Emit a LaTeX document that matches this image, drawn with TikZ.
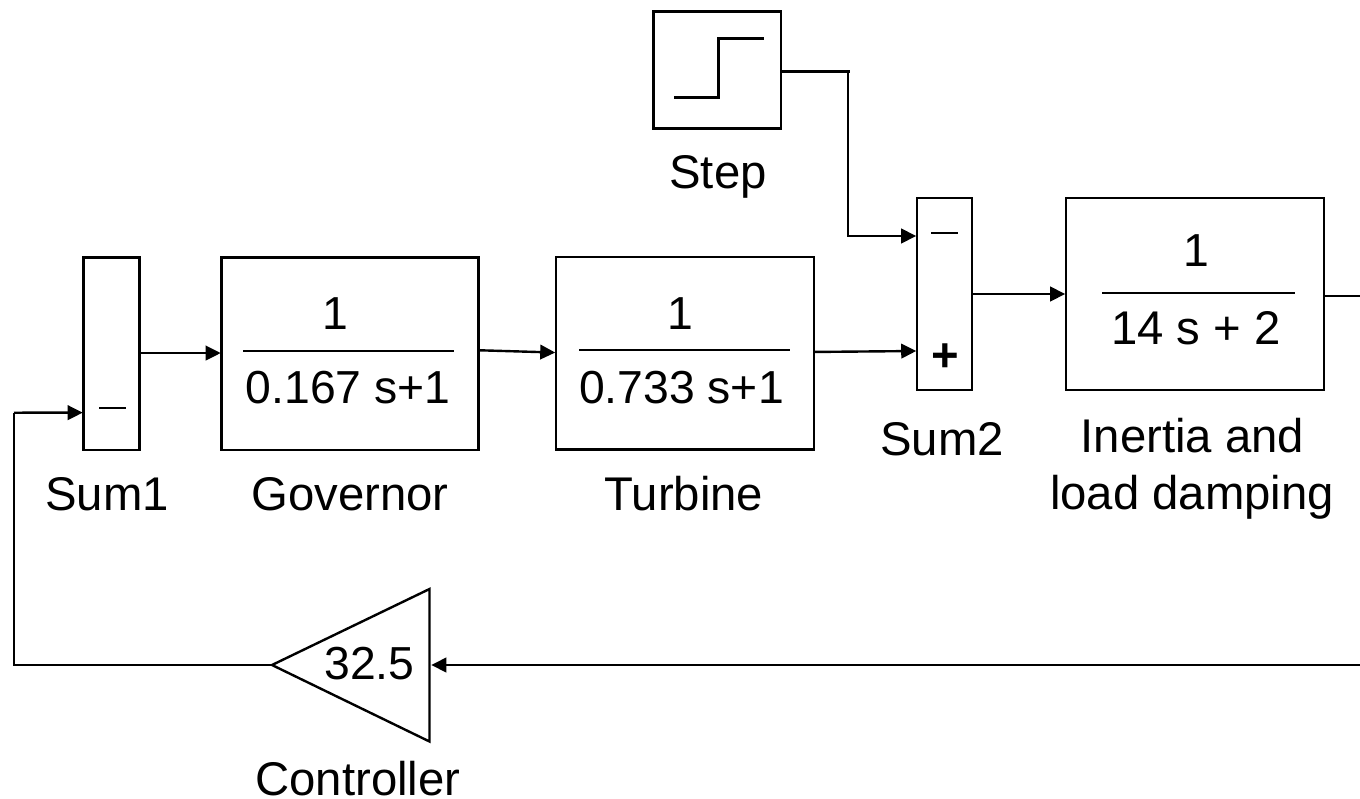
\documentclass[tikz,border=0pt]{standalone}
\usepackage{fontspec}
\setmainfont{Liberation Sans}
\usetikzlibrary{arrows.meta}
\tikzset{
 px/.style={x=1pt,y=-1pt},
 blockbox/.style={draw=black,line width=2.5pt,fill=none,inner sep=0pt,outer sep=0pt,anchor=north west},
 lab/.style={font=\fontsize{47.3}{52}\selectfont,inner sep=0pt,outer sep=0pt,anchor=base,text=black},
 fraclab/.style={lab,font=\fontsize{46.3}{52}\selectfont},
 conn/.style={draw=black,line width=2.4pt,shorten >=0.8pt,-{Triangle[length=15pt,width=14.5pt]}},
 plain/.style={draw=black,line width=2.4pt},
 fracbar/.style={draw=black,line width=2.1pt}
}
\begin{document}
\begin{tikzpicture}[px]
\useasboundingbox (0,0) rectangle (1360,798);
% Blocks
\node[blockbox,minimum width=56pt,minimum height=192.5pt] (sum1) at (83.5,257.5) {};
\node[blockbox,minimum width=257pt,minimum height=192.5pt] (gov) at (221.5,257.5) {};
\node[blockbox,minimum width=258pt,minimum height=192.5pt] (tur) at (556,257) {};
\node[blockbox,minimum width=55pt,minimum height=192pt] (sum2) at (917,198) {};
\node[blockbox,minimum width=258pt,minimum height=192pt] (ine) at (1066,198) {};
\node[blockbox,minimum width=127.5pt,minimum height=117pt] (stp) at (653.5,11.5) {};
\coordinate (tipc) at (272,665);
\coordinate (tr) at (429.5,589);
\coordinate (br) at (429.5,741.5);
\draw[plain,line join=miter] (tipc) -- (tr) -- (br) -- cycle;
\coordinate (ctrlin) at (430.5,665);
% Step glyph
\draw[plain,line width=3pt] (674,97.5) -- (718.5,97.5) -- (718.5,38) -- (764,38);
% Fractions
\node[fraclab] (g1) at (335.5,329) {1};
\draw[fracbar] (243,351) -- (454,351);
\node[fraclab] (g2) at (348,403) {0.167 s+1};
\node[fraclab] (t1) at (680,329) {1};
\draw[fracbar] (579,350) -- (790,350);
\node[fraclab] (t2) at (681.5,403) {0.733 s+1};
\node[fraclab] (i1) at (1196,266) {1};
\draw[fracbar] (1102,293) -- (1295,293);
\node[lab] (i2) at (1196,344) {14 s + 2};
\node[fraclab] (c) at (369.5,679) {32.5};
% Signs
\draw[fracbar] (99,408) -- (126,408);
\draw[plain] (931,233) -- (958,233);
\node[lab,font=\fontsize{47.3}{52}\selectfont\bfseries] (plus) at (945,371) {+};
% Labels
\node[lab] (lstp) at (718,188) {Step};
\node[lab] (ls1) at (107,510) {Sum1};
\node[lab] (lg) at (350,510) {Governor};
\node[lab] (lt) at (684,510) {Turbine};
\node[lab] (ls2) at (942,455) {Sum2};
\node[lab] (li) at (1192.5,452) {Inertia and};
\node[lab] (li2) at (1192,509) {load damping};
\node[lab] (lc) at (358,795) {Controller};
% Connectors
\coordinate (r1) at (1360,295.7);
\coordinate (r2) at (1360,665);
\coordinate (lft) at (14,665);
\coordinate (lup) at (14,412.7);
\coordinate (stepcorner) at (848,71.5);
\draw[conn] ([yshift=0.7pt]sum1.east) -- ([yshift=0.7pt]gov.west);
\draw[conn] ([yshift=3.5pt]gov.east) -- ([yshift=0.7pt]tur.west);
\draw[conn] ([yshift=1.3pt]tur.east) -- ([yshift=-57pt]sum2.west);
\draw[conn] (sum2.east) -- (ine.west);
\draw[plain] ([yshift=-1.7pt]ine.east) -- (r1);
\draw[conn] (r2) -- (ctrlin);
\draw[plain] (tipc) -- (lft) -- (lup);
\draw[conn] (lup) -- ([yshift=-58.9pt]sum1.west);
\draw[conn] ([yshift=-1.5pt]stp.east) -- ++(69,0) (stepcorner) -- (stepcorner |- 0,236) -- ([yshift=58pt]sum2.west);
\end{tikzpicture}
\end{document}
